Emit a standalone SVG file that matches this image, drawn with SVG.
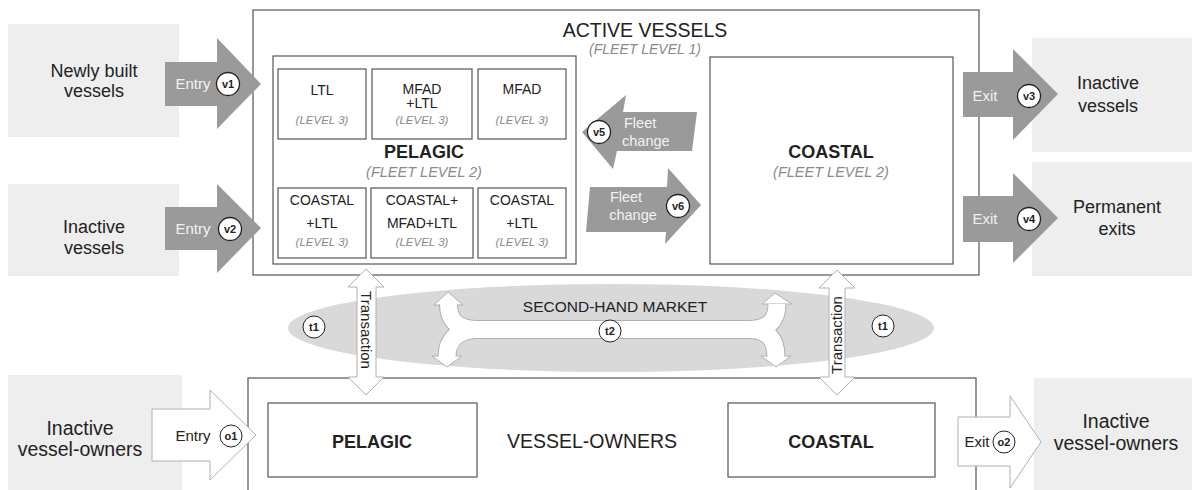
<svg xmlns="http://www.w3.org/2000/svg" width="1192" height="490" viewBox="0 0 1192 490">
<defs>
<style>
text{font-family:"Liberation Sans",Arial,Helvetica,sans-serif;fill:#222;text-anchor:middle}
.box{fill:#fff;stroke:#555;stroke-width:1.2}
.gbox{fill:#eeeeee}
.garr{fill:#9a9a9a}
.warr{fill:#fff;stroke:#b0b0b0;stroke-width:1}
.lbl{fill:#f2f2f2;font-size:15px}
.it{font-style:italic;fill:#8a8a8a}
.circ{fill:#fff;stroke:#222;stroke-width:1.3}
.ct{font-weight:bold;font-size:11px}
.big{font-size:18px}
.big2{font-size:19.5px}
.l3{font-size:14px}
.l3i{font-size:11.5px;font-style:italic;fill:#8a8a8a}
.bold{font-weight:bold}
</style>
</defs>
<rect width="1192" height="490" fill="#fff"/>

<g id="src-newly-built">
<rect class="gbox" x="8" y="24" width="171" height="113"/>
<text class="big" x="94" y="77">Newly built</text>
<text class="big" x="94" y="97">vessels</text>
</g>
<g id="src-inactive-vessels">
<rect class="gbox" x="8" y="184" width="171" height="92"/>
<text class="big" x="94" y="233">Inactive</text>
<text class="big" x="94" y="254">vessels</text>
</g>
<g id="dst-inactive-vessels">
<rect class="gbox" x="1032" y="38" width="160" height="114"/>
<text class="big" x="1108" y="89">Inactive</text>
<text class="big" x="1108" y="112">vessels</text>
</g>
<g id="dst-permanent-exits">
<rect class="gbox" x="1032" y="162" width="160" height="114"/>
<text class="big" x="1117" y="213">Permanent</text>
<text class="big" x="1117" y="235">exits</text>
</g>
<g id="src-inactive-owners">
<rect class="gbox" x="8" y="375" width="174" height="120"/>
<text class="big2" x="80" y="435">Inactive</text>
<text class="big2" x="80" y="456">vessel-owners</text>
</g>
<g id="dst-inactive-owners">
<rect class="gbox" x="1034" y="378" width="158" height="120"/>
<text class="big2" x="1116" y="428">Inactive</text>
<text class="big2" x="1116" y="450">vessel-owners</text>
</g>

<g id="active-vessels">
<rect class="box" x="253" y="10" width="726" height="265"/>
<text x="645" y="37" style="font-size:19.5px">ACTIVE VESSELS</text>
<text class="it" x="645" y="54" style="font-size:14px">(FLEET LEVEL 1)</text>
</g>

<g id="pelagic-fleet">
<rect class="box" x="273" y="56" width="303" height="208"/>
<text class="bold" x="424" y="158" style="font-size:18px">PELAGIC</text>
<text class="it" x="424" y="177" style="font-size:14.5px">(FLEET LEVEL 2)</text>
</g>
<g id="p-ltl">
<rect class="box" x="278" y="69" width="88" height="70"/>
<text class="l3" x="322" y="95">LTL</text>
<text class="l3i" x="322" y="124">(LEVEL 3)</text>
</g>
<g id="p-mfad-ltl">
<rect class="box" x="372" y="69" width="100" height="70"/>
<text class="l3" x="422" y="94">MFAD</text>
<text class="l3" x="422" y="108">+LTL</text>
<text class="l3i" x="422" y="124">(LEVEL 3)</text>
</g>
<g id="p-mfad">
<rect class="box" x="478" y="69" width="88" height="70"/>
<text class="l3" x="522" y="94">MFAD</text>
<text class="l3i" x="522" y="124">(LEVEL 3)</text>
</g>
<g id="p-coastal-ltl-1">
<rect class="box" x="278" y="188" width="88" height="70"/>
<text class="l3" x="322" y="205">COASTAL</text>
<text class="l3" x="322" y="228">+LTL</text>
<text class="l3i" x="322" y="246">(LEVEL 3)</text>
</g>
<g id="p-coastal-mfad-ltl">
<rect class="box" x="371" y="188" width="102" height="70"/>
<text class="l3" x="422" y="205">COASTAL+</text>
<text class="l3" x="422" y="228">MFAD+LTL</text>
<text class="l3i" x="422" y="246">(LEVEL 3)</text>
</g>
<g id="p-coastal-ltl-2">
<rect class="box" x="478" y="188" width="88" height="70"/>
<text class="l3" x="522" y="205">COASTAL</text>
<text class="l3" x="522" y="228">+LTL</text>
<text class="l3i" x="522" y="246">(LEVEL 3)</text>
</g>

<g id="coastal-fleet">
<rect class="box" x="710" y="57" width="243" height="207"/>
<text class="bold" x="831" y="158" style="font-size:18px">COASTAL</text>
<text class="it" x="831" y="177" style="font-size:14.5px">(FLEET LEVEL 2)</text>
</g>

<g id="second-hand-market">
<ellipse cx="611" cy="328" rx="323" ry="44" fill="#d9d9d9"/>
<text x="615" y="312" style="font-size:15.5px">SECOND-HAND MARKET</text>
</g>

<g id="vessel-owners">
<rect class="box" x="248" y="378" width="728" height="130"/>
<text x="592" y="448" style="font-size:19.5px">VESSEL-OWNERS</text>
</g>
<g id="owner-pelagic">
<rect class="box" x="268" y="403" width="209" height="74"/>
<text class="bold" x="372" y="448" style="font-size:18px">PELAGIC</text>
</g>
<g id="owner-coastal">
<rect class="box" x="728" y="403" width="207" height="74"/>
<text class="bold" x="831" y="448" style="font-size:18px">COASTAL</text>
</g>

<g id="connectors">
<g id="v1">
<polygon class="garr" points="165,62 217,62 217,38 261,84 217,129 217,106 165,106"/>
<text class="lbl" x="193" y="89">Entry</text>
<circle class="circ" cx="228" cy="84" r="11.5"/><text class="ct" x="228" y="88">v1</text>
</g>
<g id="v2">
<polygon class="garr" points="165,207 217,207 217,184 261,228 217,273 217,250 165,250"/>
<text class="lbl" x="193" y="234">Entry</text>
<circle class="circ" cx="230" cy="229" r="11.5"/><text class="ct" x="230" y="233">v2</text>
</g>
<g id="v3">
<polygon class="garr" points="963,72 1013,72 1013,49 1058,94 1013,140 1013,117 963,117"/>
<text class="lbl" x="985" y="101">Exit</text>
<circle class="circ" cx="1029" cy="96" r="11.5"/><text class="ct" x="1029" y="100">v3</text>
</g>
<g id="v4">
<polygon class="garr" points="963,196 1013,196 1013,173 1058,218 1013,263 1013,242 963,242"/>
<text class="lbl" x="985" y="224">Exit</text>
<circle class="circ" cx="1029" cy="219" r="11.5"/><text class="ct" x="1029" y="223">v4</text>
</g>
<g id="v5">
<polygon class="garr" points="582,132 626,95 623,112 697,112 692,151 617,151 613,169"/>
<text class="lbl" x="624" y="128" style="text-anchor:start;font-size:14.5px">Fleet</text>
<text class="lbl" x="622" y="146" style="text-anchor:start;font-size:14.5px">change</text>
<circle class="circ" cx="599" cy="132" r="11.5"/><text class="ct" x="599" y="136">v5</text>
</g>
<g id="v6">
<polygon class="garr" points="590,187 667,187 668,168 701,205 665,244 666,232 586,232"/>
<text class="lbl" x="626" y="202" style="font-size:14.5px">Fleet</text>
<text class="lbl" x="633" y="220" style="font-size:14.5px">change</text>
<circle class="circ" cx="678" cy="206" r="11.5"/><text class="ct" x="678" y="210">v6</text>
</g>
<g id="o1">
<polygon class="warr" points="152,409 210,409 210,390 256,435 210,480 210,461 152,461"/>
<text x="193" y="441" style="font-size:15px">Entry</text>
<circle class="circ" cx="231" cy="436" r="11" style="stroke-width:1"/><text class="ct" x="231" y="440">o1</text>
</g>
<g id="o2">
<polygon class="warr" points="958,417 1010,417 1010,396 1041,442 1010,488 1010,466 958,466"/>
<text x="977" y="447" style="font-size:15px">Exit</text>
<circle class="circ" cx="1004" cy="442" r="11" style="stroke-width:1"/><text class="ct" x="1004" y="446">o2</text>
</g>
<g id="t1-pelagic">
<polygon class="warr" points="366,269 384,287 376,287 376,377 384,377 366,395 348,377 357,377 357,287 348,287"/>
<text x="0" y="0" transform="translate(361,330) rotate(90)" style="font-size:15px">Transaction</text>
<circle class="circ" cx="314" cy="327" r="11" style="stroke-width:1"/><text class="ct" x="314" y="331">t1</text>
</g>
<g id="t1-coastal">
<polygon class="warr" points="837,270 855,288 845,288 845,377 855,377 837,395 819,377 829,377 829,288 819,288"/>
<text x="0" y="0" transform="translate(842,335) rotate(-90)" style="font-size:15px">Transaction</text>
<circle class="circ" cx="883" cy="326" r="11" style="stroke-width:1"/><text class="ct" x="883" y="330">t1</text>
</g>
<g id="t2">
<polygon class="warr" points="448,292 463,305 434,305"/>
<polygon class="warr" points="447,367 462,356 432,356"/>
<polygon class="warr" points="775,293 792,304 762,304"/>
<polygon class="warr" points="776,367 791,356 761,356"/>
<g fill="none" stroke="#b0b0b0" stroke-width="19">
<path d="M448.5,304.5 C448.5,321 458,329.5 478,329.5"/>
<path d="M447,356.5 C447,339 458,329.5 478,329.5"/>
<path d="M478,329.5 L748,329.5"/>
<path d="M748,329.5 C768,329.5 777,321 777,304.5"/>
<path d="M748,329.5 C768,329.5 776,339 776,356.5"/>
</g>
<g fill="none" stroke="#fff" stroke-width="17">
<path d="M448.5,304 C448.5,321 458,329.5 478,329.5"/>
<path d="M447,357 C447,339 458,329.5 478,329.5"/>
<path d="M476,329.5 L750,329.5"/>
<path d="M748,329.5 C768,329.5 777,321 777,304"/>
<path d="M748,329.5 C768,329.5 776,339 776,357"/>
</g>
<circle class="circ" cx="610" cy="331" r="11" style="stroke-width:1"/><text class="ct" x="610" y="335">t2</text>
</g>
</g>
</svg>
